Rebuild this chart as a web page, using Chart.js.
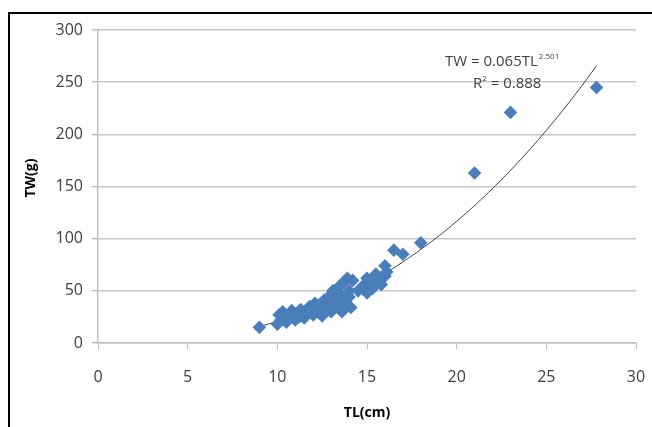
<!DOCTYPE html>
<html><head><meta charset="utf-8">
<script src="https://cdn.jsdelivr.net/npm/chart.js@4.4.1/dist/chart.umd.min.js"></script>
<style>
html,body{margin:0;padding:0;background:#fff;}
#wrap{position:relative;width:652px;height:427px;overflow:hidden;}
#frame{position:absolute;left:8px;top:12px;width:700px;height:500px;border-top:2px solid #000;border-left:2px solid #000;pointer-events:none;}
canvas{position:absolute;left:0;top:0;}
</style></head><body>
<div id="wrap"><canvas id="c" width="652" height="427"></canvas><div id="frame"></div></div>
<script>
// Total length (cm) and total weight (g)
const tlValues = [9.0, 10.0, 10.1, 10.2, 10.3, 10.5, 10.6, 10.8, 11.0, 11.0, 11.2, 11.3, 11.5, 11.6, 11.8,
  12.0, 12.0, 12.1, 12.3, 12.4, 12.5, 12.6, 12.8, 12.9, 13.0, 13.0, 13.1, 13.2, 13.4, 13.5, 13.5, 13.6,
  13.7, 13.8, 13.9, 14.0, 14.0, 14.1, 14.2, 14.5, 14.8, 15.0, 15.0, 15.1, 15.3, 15.5, 15.6, 15.8, 16.0,
  16.0, 16.1, 16.5, 17.0, 18.0, 21.0, 23.0, 27.8];
const twValues = [15, 18, 27, 22, 30, 20, 26, 31, 22, 28, 25, 32, 24, 30, 35,
  27, 33, 38, 29, 36, 26, 41, 33, 45, 30, 38, 50, 42, 35, 55, 46, 30,
  58, 40, 62, 50, 44, 34, 60, 50, 55, 48, 62, 58, 52, 66, 60, 56, 74,
  64, 68, 89, 85, 96, 163, 221, 245];
const xTicks = [0, 5, 10, 15, 20, 25, 30];
const yTicks = [0, 50, 100, 150, 200, 250, 300];
const xTitle = 'TL(cm)';
const yTitle = 'TW(g)';
// Power trendline printed on the chart: TW = a * TL^b
const fitA = 0.065;
const fitB = 2.501;
const fitR2 = '0.888';
const fitFrom = 9.0;
const fitTo = 27.8;

const points = tlValues.map((x, i) => ({x: x, y: twValues[i]}));

const trendPlugin = {
  id: 'trend',
  beforeDatasetsDraw(chart) {
    const xs = chart.scales.x, ys = chart.scales.y, ctx = chart.ctx;
    ctx.save();
    ctx.beginPath();
    const n = 200;
    for (let i = 0; i <= n; i++) {
      const t = fitFrom + (fitTo - fitFrom) * i / n;
      const px = xs.getPixelForValue(t), py = ys.getPixelForValue(fitA * Math.pow(t, fitB));
      if (i === 0) ctx.moveTo(px, py); else ctx.lineTo(px, py);
    }
    ctx.strokeStyle = '#3a3a3a';
    ctx.lineWidth = 1;
    ctx.stroke();
    ctx.restore();
  },
  afterDatasetsDraw(chart) {
    const ctx = chart.ctx, a = chart.chartArea;
    ctx.save();
    ctx.fillStyle = '#404040';
    ctx.textBaseline = 'alphabetic';
    ctx.textAlign = 'left';
    const big = '15px "Open Sans", sans-serif', small = '8px "Open Sans", sans-serif';
    // line 1
    let x = 445, y = a.top + 36;
    ctx.font = big;
    const s1 = 'TW = ' + fitA + 'TL';
    ctx.fillText(s1, x, y);
    x += ctx.measureText(s1).width;
    ctx.font = small;
    ctx.fillText(String(fitB), x + 1, y - 7);
    // line 2
    x = 473; y = a.top + 58;
    ctx.font = big;
    ctx.fillText('R', x, y);
    x += ctx.measureText('R').width;
    ctx.font = small;
    ctx.fillText('2', x, y - 7);
    x += ctx.measureText('2').width;
    ctx.font = big;
    ctx.fillText(' = ' + fitR2, x, y);
    // y axis title
    ctx.fillStyle = '#000';
    ctx.font = 'bold 14px "Open Sans", sans-serif';
    ctx.textAlign = 'center';
    ctx.textBaseline = 'middle';
    ctx.translate(31, 178);
    ctx.rotate(-Math.PI / 2);
    ctx.fillText(yTitle, 0, 0);
    ctx.restore();
  }
};

new Chart(document.getElementById('c'), {
  type: 'scatter',
  data: {
    datasets: [{
      data: points,
      pointStyle: 'rectRot',
      pointRadius: 6.8,
      pointBackgroundColor: '#4a7ebb',
      pointBorderColor: '#4a7ebb',
      pointBorderWidth: 0,
      pointHoverRadius: 6.8
    }]
  },
  plugins: [trendPlugin],
  options: {
    responsive: false,
    animation: false,
    events: [],
    layout: {padding: {left: 20, top: 30, right: 16, bottom: 6}},
    plugins: {legend: {display: false}, tooltip: {enabled: false}},
    scales: {
      x: {
        type: 'linear', min: 0, max: 30,
        afterBuildTicks(s) { s.ticks = xTicks.map(v => ({value: v})); },
        afterFit(s) { s.height = 78; s.paddingRight = 0; s.paddingLeft = 0; },
        grid: {drawOnChartArea: false, drawTicks: true, tickLength: 6, color: '#bfbfbf', tickColor: '#bfbfbf'},
        border: {color: '#bfbfbf', width: 1.5},
        ticks: {color: '#404040', font: {family: '"Open Sans", sans-serif', size: 16}, padding: 19, maxRotation: 0},
        title: {display: true, text: xTitle, color: '#000', font: {family: '"Open Sans", sans-serif', size: 14, weight: 'bold'}, padding: {top: 6, bottom: 0}}
      },
      y: {
        type: 'linear', min: 0, max: 300,
        afterBuildTicks(s) { s.ticks = yTicks.map(v => ({value: v})); },
        afterFit(s) { s.width = 78; },
        grid: {drawTicks: true, tickLength: 6, color: '#c8c8c8', tickColor: '#bfbfbf', lineWidth: 1.5},
        border: {color: '#bfbfbf', width: 1.5},
        ticks: {color: '#404040', font: {family: '"Open Sans", sans-serif', size: 16}, padding: 9},
        title: {display: false}
      }
    }
  }
});
</script>
</body></html>
